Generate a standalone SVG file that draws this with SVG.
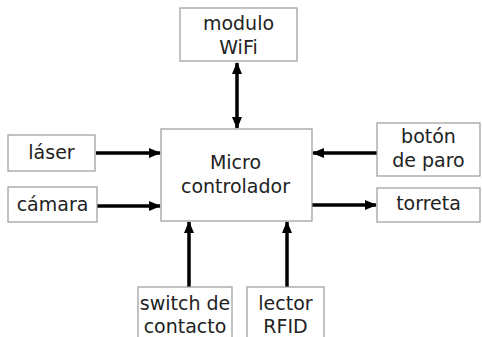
<svg xmlns="http://www.w3.org/2000/svg" width="482" height="337" viewBox="0 0 482 337">
  <style>
    .box { fill: #ffffff; stroke: #9a9a9a; stroke-width: 1.2; }
    .lbl { font-family: "DejaVu Sans", Verdana, sans-serif; font-size: 19px; fill: #222222; text-anchor: middle; }
    .wire { stroke: #000000; stroke-width: 3.5; fill: none; }
  </style>
  <defs>
    <marker id="head" viewBox="0 0 12 10" refX="11" refY="5" markerWidth="12" markerHeight="10" markerUnits="userSpaceOnUse" orient="auto-start-reverse">
      <path d="M0,0 L12,5 L0,10 Z" fill="#000000"/>
    </marker>
  </defs>
  <rect width="482" height="337" fill="#ffffff"/>

  <g id="connectors">
    <line class="wire" x1="237" y1="63" x2="237" y2="128" marker-start="url(#head)" marker-end="url(#head)"/>
    <line class="wire" x1="96" y1="153" x2="160" y2="153" marker-end="url(#head)"/>
    <line class="wire" x1="97" y1="206" x2="160" y2="206" marker-end="url(#head)"/>
    <line class="wire" x1="377" y1="153" x2="313" y2="153" marker-end="url(#head)"/>
    <line class="wire" x1="312" y1="205" x2="376" y2="205" marker-end="url(#head)"/>
    <line class="wire" x1="189" y1="287" x2="189" y2="222" marker-end="url(#head)"/>
    <line class="wire" x1="287" y1="287" x2="287" y2="222" marker-end="url(#head)"/>
  </g>

  <g id="micro">
    <rect class="box" x="161" y="129" width="151" height="92"/>
    <text class="lbl" x="235.5" y="169">Micro</text>
    <text class="lbl" x="235.5" y="193">controlador</text>
  </g>
  <g id="wifi">
    <rect class="box" x="180" y="8" width="117" height="53"/>
    <text class="lbl" x="238.5" y="30">modulo</text>
    <text class="lbl" x="238.5" y="54">WiFi</text>
  </g>
  <g id="laser">
    <rect class="box" x="8" y="135" width="87" height="36"/>
    <text class="lbl" x="51.5" y="159">láser</text>
  </g>
  <g id="camara">
    <rect class="box" x="8" y="187" width="89" height="35"/>
    <text class="lbl" x="52.5" y="211">cámara</text>
  </g>
  <g id="boton">
    <rect class="box" x="377" y="123" width="103" height="53"/>
    <text class="lbl" x="428.5" y="143">botón</text>
    <text class="lbl" x="428.5" y="167">de paro</text>
  </g>
  <g id="torreta">
    <rect class="box" x="377" y="188" width="103" height="34"/>
    <text class="lbl" x="428.5" y="210">torreta</text>
  </g>
  <g id="switch">
    <rect class="box" x="138" y="287" width="94" height="55"/>
    <text class="lbl" x="185" y="310">switch de</text>
    <text class="lbl" x="185" y="333">contacto</text>
  </g>
  <g id="lector">
    <rect class="box" x="247" y="287" width="77" height="55"/>
    <text class="lbl" x="285.5" y="310">lector</text>
    <text class="lbl" x="285.5" y="333">RFID</text>
  </g>
</svg>
